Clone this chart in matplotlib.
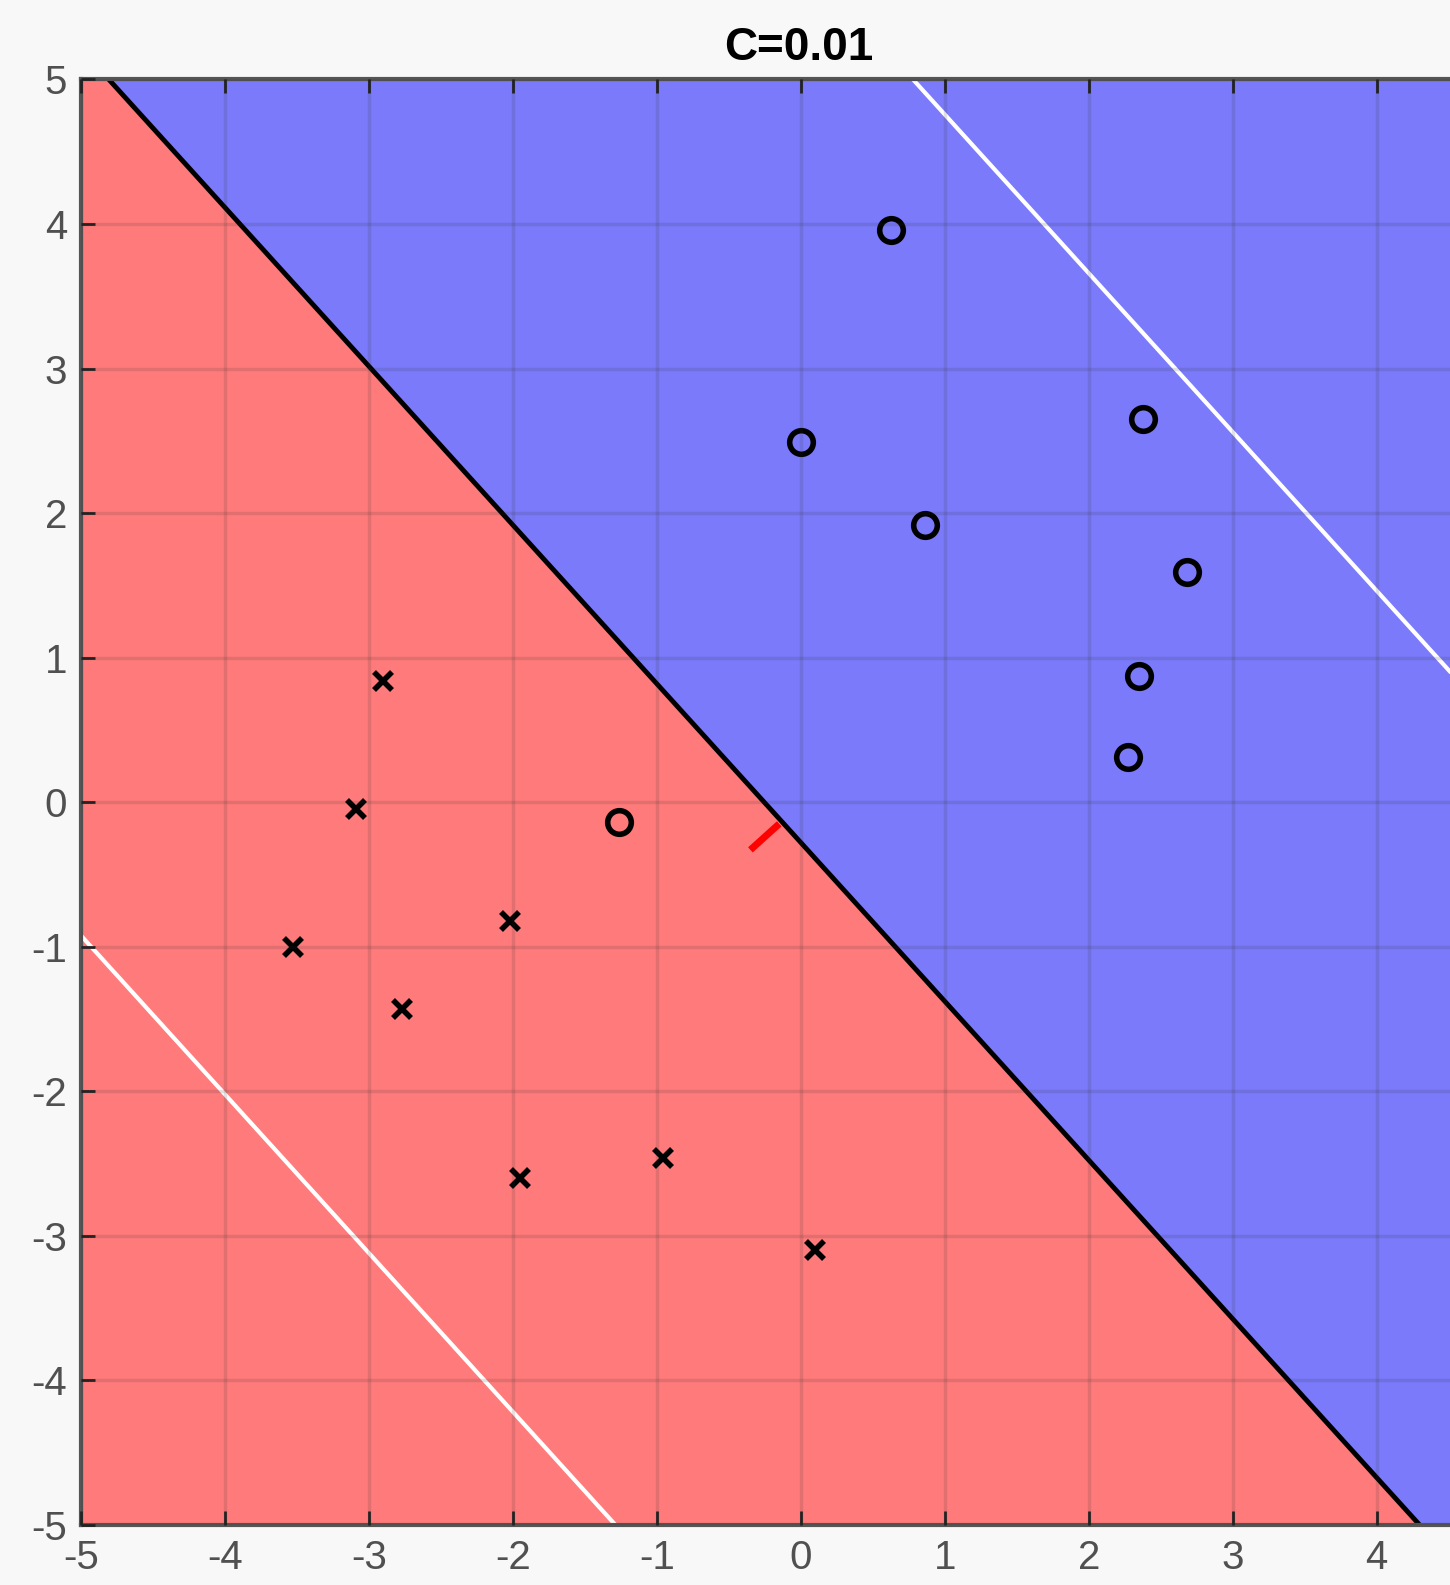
#!/usr/bin/env python3
"""Linear SVM decision regions for C=0.01."""

import matplotlib

matplotlib.use("Agg")
import matplotlib.pyplot as plt
import numpy as np

# decision function f(x, y) = w0*x + w1*y + b 
W = [0.179, 0.163]
B = 0.0455
C_VALUE = 0.01

pos_x = [0.63, 0.00, 2.38, 0.86, 2.68, 2.35, 2.27, -1.26]
pos_y = [3.96, 2.49, 2.65, 1.92, 1.59, 0.87, 0.31, -0.14]
neg_x = [-2.90, -3.09, -3.53, -2.02, -2.77, -1.95, -0.96, 0.10]
neg_y = [0.84, -0.05, -1.00, -0.82, -1.43, -2.60, -2.46, -3.10]

# short red segment (normal direction at the boundary)
seg_x = [-0.35, -0.15]
seg_y = [-0.33, -0.15]

x_ticks = list(range(-5, 5))
y_ticks = list(range(-5, 6))

plt.rcParams["font.family"] = ["Liberation Sans", "DejaVu Sans"]
plt.rcParams["axes.unicode_minus"] = False

fig = plt.figure(figsize=(14.5, 15.85), dpi=100, facecolor="#f8f8f8")
ax = fig.add_axes([0.0559, 0.0379, 0.9441, 0.912])

gx, gy = np.meshgrid(np.linspace(-5, 4.6, 400), np.linspace(-5, 5, 400))
f = W[0] * gx + W[1] * gy + B
ax.contourf(gx, gy, f, levels=[-100, 0, 100], colors=["#ff7a7a", "#7a7afa"])
ax.contour(gx, gy, f, levels=[0], colors="black", linewidths=3.5)
ax.contour(gx, gy, f, levels=[-1, 1], colors="white", linewidths=3,
           linestyles="solid")

ax.plot(seg_x, seg_y, color="#ff0000", linewidth=5, solid_capstyle="butt")
ax.plot(pos_x, pos_y, "o", markersize=17, markerfacecolor="none",
        markeredgecolor="black", markeredgewidth=4)
ax.plot(neg_x, neg_y, "x", markersize=13, color="black", markeredgewidth=4)

ax.set_xlim(-5, 4.51)
ax.set_ylim(-5, 5)
ax.set_xticks(x_ticks)
ax.set_yticks(y_ticks)
ax.tick_params(direction="in", length=10, width=2, labelsize=29,
               labelcolor="#505050", color="#222222", top=True, pad=10)
ax.grid(True, color="#303030", alpha=0.14, linewidth=2.5)
ax.set_axisbelow(False)
for side in ("top", "left", "bottom"):
    ax.spines[side].set_linewidth(3)
    ax.spines[side].set_color("#555555")
ax.spines["right"].set_visible(False)
ax.set_title(f"C={C_VALUE}", fontsize=33, fontweight="bold", pad=14, x=0.524)

fig.savefig("out.png", dpi=100, facecolor=fig.get_facecolor())
